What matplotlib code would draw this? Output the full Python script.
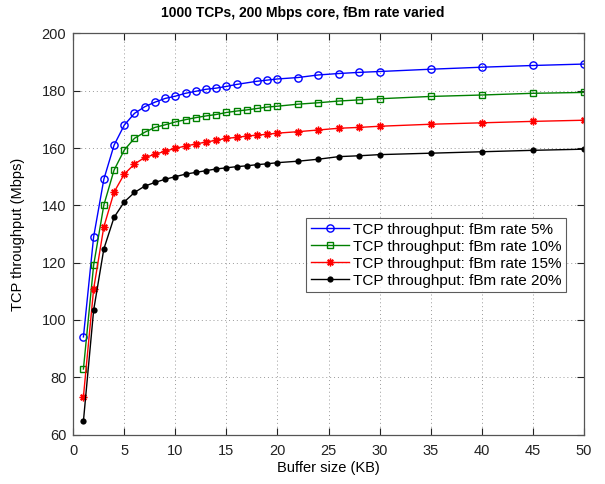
import matplotlib
matplotlib.use("Agg")
import matplotlib.pyplot as plt

plt.rcParams['font.family'] = ['Liberation Sans', 'DejaVu Sans']

x_blue = [1, 2, 3, 4, 5, 6, 7, 8, 9, 10, 11, 12, 13, 14, 15, 16, 18, 19, 20,
          22, 24, 26, 28, 30, 35, 40, 45, 50]
x_all = [1, 2, 3, 4, 5, 6, 7, 8, 9, 10, 11, 12, 13, 14, 15, 16, 17, 18, 19, 20,
         22, 24, 26, 28, 30, 35, 40, 45, 50]

rate5 = [94.1, 129.0, 149.1, 161.0, 168.0, 172.1, 174.4, 176.0, 177.3, 178.1,
         179.1, 179.8, 180.5, 180.9, 181.5, 182.2, 183.3, 183.7, 184.1,
         184.6, 185.5, 186.0, 186.4, 186.7, 187.5, 188.2, 188.8, 189.3]
rate10 = [82.9, 119.1, 140.1, 152.3, 159.3, 163.4, 165.5, 167.2, 168.1, 169.1,
          169.9, 170.6, 171.2, 171.7, 172.4, 172.9, 173.3, 173.8, 174.3, 174.6,
          175.3, 175.8, 176.4, 176.8, 177.2, 178.0, 178.5, 179.1, 179.4]
rate15 = [73.2, 110.8, 132.5, 144.6, 150.9, 154.4, 156.7, 157.8, 158.9, 159.9,
          160.7, 161.4, 162.1, 162.7, 163.4, 163.7, 164.2, 164.5, 164.8, 165.2,
          165.7, 166.3, 166.9, 167.2, 167.6, 168.3, 168.8, 169.3, 169.7]
rate20 = [64.7, 103.4, 124.8, 135.8, 141.2, 144.5, 146.7, 148.0, 149.1, 150.0,
          150.9, 151.5, 152.1, 152.7, 153.1, 153.5, 153.8, 154.2, 154.5, 154.9,
          155.4, 156.1, 157.0, 157.3, 157.7, 158.2, 158.7, 159.2, 159.6]

labels = ["TCP throughput: fBm rate 5%", "TCP throughput: fBm rate 10%",
          "TCP throughput: fBm rate 15%", "TCP throughput: fBm rate 20%"]
x_ticks = [0, 5, 10, 15, 20, 25, 30, 35, 40, 45, 50]
y_ticks = [60, 80, 100, 120, 140, 160, 180, 200]

fig = plt.figure(figsize=(6.05, 4.84), dpi=100)
ax = fig.add_axes([0.121, 0.102, 0.844, 0.829])

ax.plot(x_blue, rate5, color='#0000ff', lw=1, marker='o', ms=5.2, mfc='none',
        mew=1, label=labels[0])
ax.plot(x_all, rate10, color='#008000', lw=1, marker='s', ms=4.5, mfc='none',
        mew=1, label=labels[1])
ax.plot(x_all, rate15, color='#ff0000', lw=1, marker=(8, 2, 0), ms=5.5, mew=1.0,
        label=labels[2])
ax.plot(x_all, rate20, color='#000000', lw=1, marker='o', ms=4.5, mew=0,
        label=labels[3])

ax.set_xlim(0, 50)
ax.set_ylim(60, 200)
ax.set_xticks(x_ticks)
ax.set_yticks(y_ticks)
ax.tick_params(direction='in', length=5, width=0.8, labelsize=10.5,
               top=True, right=True, colors='#222222')
ax.tick_params(axis='x', pad=7)
ax.tick_params(axis='y', pad=5)
ax.grid(True, linestyle=(0, (1, 3)), color='#999999', lw=0.7)
for s in ax.spines.values():
    s.set_color('#555555')
    s.set_linewidth(0.9)

ax.set_xlabel("Buffer size (KB)", fontsize=10.5, labelpad=2)
ax.set_ylabel("TCP throughput (Mbps)", fontsize=10.5, labelpad=12)
fig.text(0.5, 0.974, "1000 TCPs, 200 Mbps core, fBm rate varied", fontsize=10,
         fontweight='bold', ha='center', va='center')

leg = ax.legend(loc='upper left', bbox_to_anchor=(0.456, 0.540), fontsize=11,
                frameon=True, fancybox=False, edgecolor='#333333',
                borderpad=0.3, labelspacing=0.2, handlelength=2.5,
                handletextpad=0.3, borderaxespad=0)
leg.get_frame().set_linewidth(0.8)

fig.savefig("out.png", dpi=100)
